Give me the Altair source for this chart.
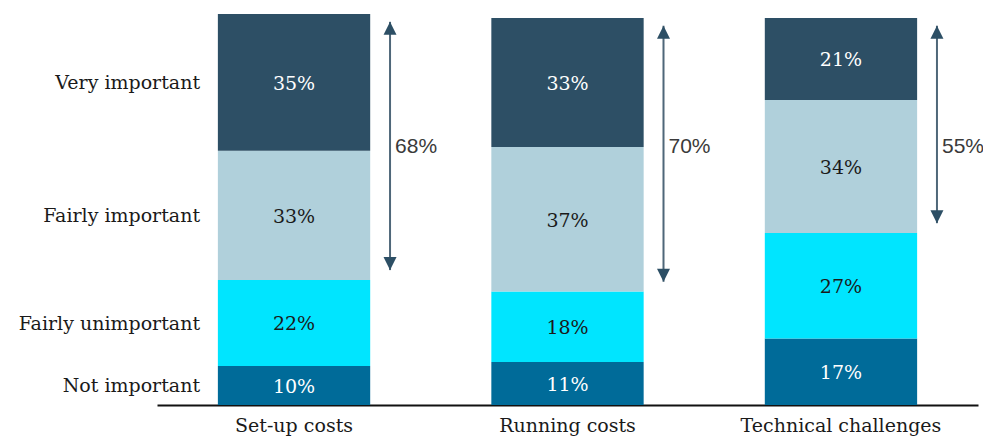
import altair as alt
import pandas as pd

categories = ["Set-up costs", "Running costs", "Technical challenges"]
levels = ["Not important", "Fairly unimportant", "Fairly important", "Very important"]
not_important = [10, 11, 17]
fairly_unimportant = [22, 18, 27]
fairly_important = [33, 37, 34]
very_important = [35, 33, 21]
important_share = [68, 70, 55]

level_colors = ["#006B99", "#00E5FF", "#B0D0DB", "#2D4F65"]
label_colors = ["#FFFFFF", "#1A1A1A", "#1A1A1A", "#FFFFFF"]

series = [not_important, fairly_unimportant, fairly_important, very_important]

rows = []
for ci, cat in enumerate(categories):
    lo = 0
    for li, lev in enumerate(levels):
        v = series[li][ci]
        rows.append({
            "cat": cat, "level": lev, "idx": li, "value": v,
            "lo": lo, "hi": lo + v, "mid": lo + v / 2,
            "label": f"{v}%", "tcolor": label_colors[li],
        })
        lo += v
df = pd.DataFrame(rows)

arr_rows = []
for ci, cat in enumerate(categories):
    total = sum(s[ci] for s in series)
    base = not_important[ci] + fairly_unimportant[ci]
    arr_rows.append({
        "cat": cat, "top": total - 2, "bottom": base + 2.5,
        "label": f"{important_share[ci]}%",
    })
adf = pd.DataFrame(arr_rows)

SERIF = "DejaVu Serif"
SANS = "Liberation Sans"
NAVY = "#2D4F65"
FS = 19

x_enc = alt.X(
    "cat:N", sort=categories,
    scale=alt.Scale(paddingInner=0.443, paddingOuter=0.2226),
    axis=alt.Axis(title=None, labelAngle=0, ticks=False, domainColor="#111111",
                  domainWidth=2, labelFont=SERIF, labelFontSize=FS, labelLimit=0,
                  labelColor="#1A1A1A", labelPadding=11),
)
yscale = alt.Scale(domain=[0, 100], nice=False)

bars = alt.Chart(df).mark_bar().encode(
    x=x_enc,
    y=alt.Y("lo:Q", scale=yscale, axis=None),
    y2="hi:Q",
    color=alt.Color("level:N", sort=levels,
                    scale=alt.Scale(domain=levels, range=level_colors), legend=None),
)

seg_text = alt.Chart(df).mark_text(font=SERIF, fontSize=FS, baseline="middle", dy=1.5).encode(
    x=x_enc,
    y=alt.Y("mid:Q", scale=yscale, axis=None),
    text="label:N",
    color=alt.Color("tcolor:N", scale=None),
)

left_text = alt.Chart(df[df["cat"] == categories[0]]).mark_text(
    font=SERIF, fontSize=FS, align="right", baseline="middle", dx=-94, dy=1,
    color="#1A1A1A"
).encode(
    x=x_enc,
    y=alt.Y("mid:Q", scale=yscale, axis=None),
    text="level:N",
)

rule = alt.Chart(adf).mark_rule(color="#4F6779", strokeWidth=2, xOffset=96).encode(
    x=x_enc,
    y=alt.Y("top:Q", scale=yscale, axis=None),
    y2="bottom:Q",
)

up_head = alt.Chart(adf).mark_point(
    shape="M0,0L1,2L-1,2Z", size=169, filled=True, opacity=1, color=NAVY,
    strokeWidth=0, xOffset=96
).encode(
    x=x_enc,
    y=alt.Y("top:Q", scale=yscale, axis=None),
)

down_head = alt.Chart(adf).mark_point(
    shape="M0,0L1,-2L-1,-2Z", size=169, filled=True, opacity=1, color=NAVY,
    strokeWidth=0, xOffset=96
).encode(
    x=x_enc,
    y=alt.Y("bottom:Q", scale=yscale, axis=None),
)

arrow_text = alt.Chart(adf).mark_text(
    font=SANS, fontSize=21, align="left", baseline="middle", dx=101, color="#3A3A3A"
).encode(
    x=x_enc,
    y=alt.datum(66),
    text="label:N",
)

chart = alt.layer(bars, seg_text, left_text, rule, up_head, down_head, arrow_text).properties(
    width=821, height=391,
    padding={"left": 149, "top": 6, "right": 5, "bottom": 34},
    autosize="none",
).configure_view(stroke=None)

chart.save("out.html", embed_options={"renderer": "svg", "actions": False})
